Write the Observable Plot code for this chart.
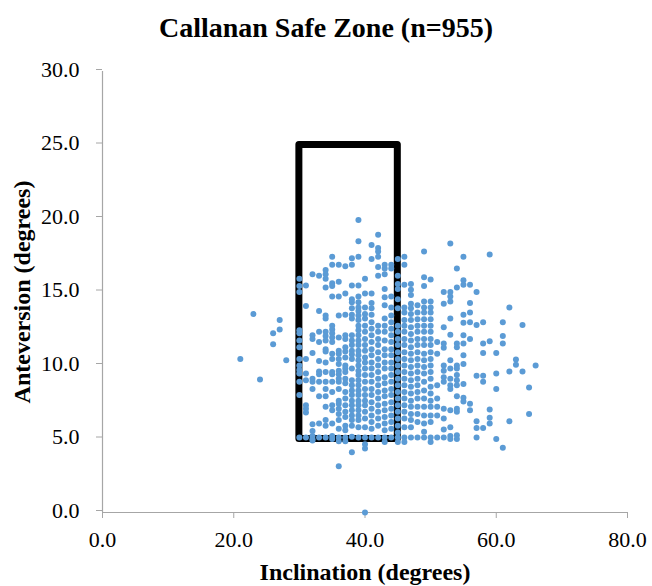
<!DOCTYPE html>
<html>
<head>
<meta charset="utf-8">
<script src="https://cdn.jsdelivr.net/npm/d3@7"></script>
<script src="https://cdn.jsdelivr.net/npm/@observablehq/plot@0.6"></script>
<style>
  html, body { margin: 0; padding: 0; background: #ffffff; }
  #title {
    width: 652px; height: 54px; line-height: 56px; text-align: center;
    font-family: "Liberation Serif", "Times New Roman", serif;
    font-weight: bold; font-size: 28px; color: #000;
  }
</style>
</head>
<body>
<div id="title">Callanan Safe Zone (n=955)</div>
<div id="chart"></div>
<script>
// Inclination columns (degrees) and the anteversion values read in each column
const inclinationColumns = [21, 23, 24, 26, 27, 28, 30, 31, 32, 33, 34, 35, 36, 37, 38, 39, 40, 41, 42, 43, 44, 45,
  46, 47, 48, 49, 50, 51, 52, 53, 54, 55, 56, 57, 58, 59, 60, 61, 62, 63, 64, 65, 66];
const anteversionColumns = [
  [10.45],
  [13.5],
  [9.05],
  [12.2, 11.45],
  [13.1, 12.45],
  [10.35],
  [15.9, 15.4, 15.0, 12.4, 12.2, 11.7, 11.25, 10.45, 10.0, 9.7, 9.45, 8.9, 8.0, 5.1],
  [15.45, 14.05, 10.45, 9.45, 9.0, 7.3, 7.05, 6.8, 5.1],
  [16.2, 12.05, 11.8, 10.85, 9.1, 8.9, 8.4, 6.0, 5.55, 5.2, 5.0, 4.9],
  [16.1, 13.7, 12.3, 11.6, 10.3, 9.6, 9.4, 8.9, 7.9, 6.05, 5.1],
  [16.5, 16.2, 15.9, 15.3, 13.4, 13.2, 12.3, 12.0, 11.7, 11.1, 10.95, 10.2, 9.55, 8.9, 8.4, 7.9, 7.2, 6.3, 5.9, 5.1],
  [17.4, 16.85, 15.6, 15.4, 14.7, 12.7, 12.45, 12.2, 11.9, 11.6, 10.8, 10.45, 9.55, 9.4, 8.9, 8.2, 7.3, 6.95, 6.05, 5.2, 5.0],
  [16.85, 15.7, 14.7, 13.4, 11.9, 11.0, 10.8, 10.45, 10.1, 9.65, 9.4, 9.1, 8.9, 8.4, 7.6, 7.4, 7.05, 6.7, 6.3, 5.7, 5.1, 4.85, 3.15],
  [16.75, 14.9, 13.45, 12.05, 11.8, 11.25, 10.95, 10.55, 10.0, 9.8, 9.55, 9.1, 8.8, 8.2, 7.75, 7.3, 6.85, 6.5, 5.9, 5.6, 5.1, 4.85],
  [17.3, 16.85, 15.45, 14.5, 14.3, 13.9, 13.45, 13.2, 12.05, 11.7, 11.4, 11.0, 10.75, 10.45, 9.8, 9.0, 8.65, 8.3, 8.0, 7.6, 7.3, 6.95, 6.6, 6.3, 5.9, 5.15, 4.1],
  [19.9, 18.45, 17.4, 15.45, 14.7, 14.3, 13.95, 13.7, 13.4, 13.1, 12.7, 12.4, 12.05, 11.7, 11.4, 11.0, 10.7, 10.35, 10.0, 9.65, 9.35, 9.0, 8.65, 8.3, 8.0, 7.6, 7.3, 6.95, 6.6, 6.3, 5.8, 5.1],
  [15.9, 14.9, 13.95, 13.5, 13.2, 12.7, 12.3, 11.8, 11.4, 11.0, 10.55, 10.2, 9.8, 9.35, 8.9, 8.4, 8.0, 7.6, 7.3, 6.85, 6.4, 5.8, 5.1, 4.65, 4.35, 0.0],
  [18.2, 17.25, 14.9, 14.25, 13.9, 13.45, 12.95, 12.5, 12.05, 11.6, 11.1, 10.7, 10.2, 9.8, 9.35, 8.9, 8.4, 8.0, 7.5, 7.05, 6.6, 6.15, 5.7, 5.1],
  [18.9, 18.0, 17.75, 17.4, 16.7, 16.1, 12.7, 12.3, 11.8, 11.4, 10.9, 10.45, 10.0, 9.55, 9.1, 8.65, 8.2, 7.75, 7.3, 6.85, 6.4, 5.9, 5.1],
  [16.85, 16.6, 16.2, 15.2, 14.65, 14.1, 13.2, 12.7, 12.3, 11.7, 11.1, 10.7, 10.2, 9.8, 9.2, 8.8, 8.3, 7.9, 7.4, 6.95, 6.5, 6.05, 5.6, 5.1, 4.8],
  [16.85, 16.6, 14.7, 13.95, 13.4, 12.95, 12.5, 12.05, 11.6, 11.1, 10.7, 10.2, 9.8, 9.35, 8.9, 8.4, 8.0, 7.5, 7.05, 6.6, 6.15, 5.7, 5.1],
  [17.25, 16.1, 15.55, 15.2, 14.5, 13.9, 12.7, 12.3, 11.8, 11.4, 10.9, 10.45, 10.0, 9.55, 9.1, 8.65, 8.2, 7.75, 7.3, 6.85, 6.4, 5.9, 5.45, 5.1, 4.8],
  [17.4, 16.85, 15.5, 13.95, 13.6, 13.1, 12.7, 12.3, 11.8, 11.4, 10.9, 10.45, 10.0, 9.55, 9.1, 8.65, 8.2, 7.75, 7.3, 6.85, 6.4, 5.8, 5.1, 4.8],
  [15.55, 15.15, 14.8, 14.2, 13.9, 13.5, 13.1, 12.6, 12.15, 11.7, 11.25, 10.8, 10.35, 9.9, 9.45, 9.0, 8.55, 8.1, 7.6, 7.2, 6.7, 6.3, 5.8, 5.1],
  [14.1, 13.6, 13.15, 12.7, 12.3, 11.8, 11.4, 10.9, 10.45, 10.0, 9.55, 9.1, 8.65, 8.2, 7.75, 7.2, 6.7, 6.15, 5.1],
  [17.75, 16.0, 15.4, 14.35, 13.95, 13.6, 13.15, 12.7, 12.3, 11.8, 11.4, 10.8, 10.35, 9.9, 9.45, 8.9, 8.3, 7.75, 7.2, 6.6, 6.05, 5.5, 5.1],
  [15.85, 14.35, 13.95, 13.6, 13.15, 12.7, 12.3, 11.8, 11.4, 10.9, 10.45, 10.0, 9.55, 9.1, 8.55, 8.1, 7.6, 7.2, 6.6, 6.15, 5.1, 4.8],
  [11.6, 10.8, 8.65, 7.75, 7.2, 6.6, 5.1],
  [15.0, 14.2, 12.6, 11.5, 11.2, 10.0, 9.65, 9.2, 8.9, 7.05, 6.4, 5.65, 5.1],
  [18.3, 15.0, 14.7, 14.35, 13.2, 12.1, 10.35, 9.8, 9.1, 8.65, 8.4, 6.95, 5.8, 5.2, 5.0],
  [16.6, 15.3, 11.5, 11.25, 10.0, 9.8, 9.35, 9.0, 8.65, 7.9, 7.05, 6.85, 5.25, 5.0],
  [17.4, 15.8, 15.5, 13.45, 12.9, 12.05, 11.5, 10.7, 10.1, 8.75, 7.8, 7.55],
  [15.5, 14.25, 13.6, 12.95, 11.8, 7.4, 6.95],
  [15.0, 12.75, 9.3, 6.2, 5.75, 5.1],
  [12.95, 11.5, 10.85, 9.3, 8.9, 5.75],
  [17.55, 11.65, 7.0, 6.45, 6.05],
  [10.85, 9.45, 8.4, 5.0],
  [12.95, 12.0, 11.5, 4.4],
  [13.95, 9.6, 6.2],
  [10.4, 10.05],
  [12.75, 9.6],
  [8.5, 6.7],
  [10.0]
];

// Safe zone bounds
const safeInclination = [30, 45];
const safeAnteversion = [5, 25];

// Axis ticks
const xTicks = [0, 20, 40, 60, 80];
const yTicks = [0, 5, 10, 15, 20, 25, 30];

const points = inclinationColumns.flatMap((inc, i) =>
  anteversionColumns[i].map(a => ({inclination: inc, anteversion: a})));

const zone = [{x1: safeInclination[0], x2: safeInclination[1], y1: safeAnteversion[0], y2: safeAnteversion[1]}];

const fmt = d => d.toFixed(1);
const gray = "#a6a6a6";

const chart = Plot.plot({
  width: 652,
  height: 532,
  marginTop: 17,
  marginBottom: 74,
  marginLeft: 102,
  marginRight: 25,
  style: {fontFamily: "'Liberation Serif', 'Times New Roman', serif", fontSize: "22px", background: "#ffffff", color: "#000", overflow: "visible"},
  x: {domain: [0, 80], axis: null},
  y: {domain: [0, 30], axis: null},
  marks: [
    Plot.ruleX([0], {stroke: gray, strokeWidth: 1.2}),
    Plot.ruleY([0], {stroke: gray, strokeWidth: 1.2}),
    Plot.axisX({ticks: xTicks, anchor: "bottom", tickSize: 6, tickPadding: 13, stroke: gray, fill: "#000", tickFormat: fmt, fontSize: 22}),
    Plot.axisY({ticks: yTicks, anchor: "left", tickSize: 6, tickPadding: 17, stroke: gray, fill: "#000", tickFormat: fmt, fontSize: 22, dy: -2}),
    Plot.rect(zone, {x1: "x1", x2: "x2", y1: "y1", y2: "y2", fill: "none", stroke: "#000", strokeWidth: 7, strokeLinejoin: "round"}),
    Plot.dot(points, {x: "inclination", y: "anteversion", r: 3, fill: "#5b9bd5", stroke: "none"}),
    Plot.text(["Inclination (degrees)"], {frameAnchor: "bottom", dy: 67, fontWeight: "bold", fontSize: 24, fill: "#000"}),
    Plot.text(["Anteversion (degrees)"], {frameAnchor: "left", dx: -80, rotate: -90, textAnchor: "middle", fontWeight: "bold", fontSize: 24, fill: "#000"})
  ]
});
document.getElementById("chart").appendChild(chart);
</script>
</body>
</html>
